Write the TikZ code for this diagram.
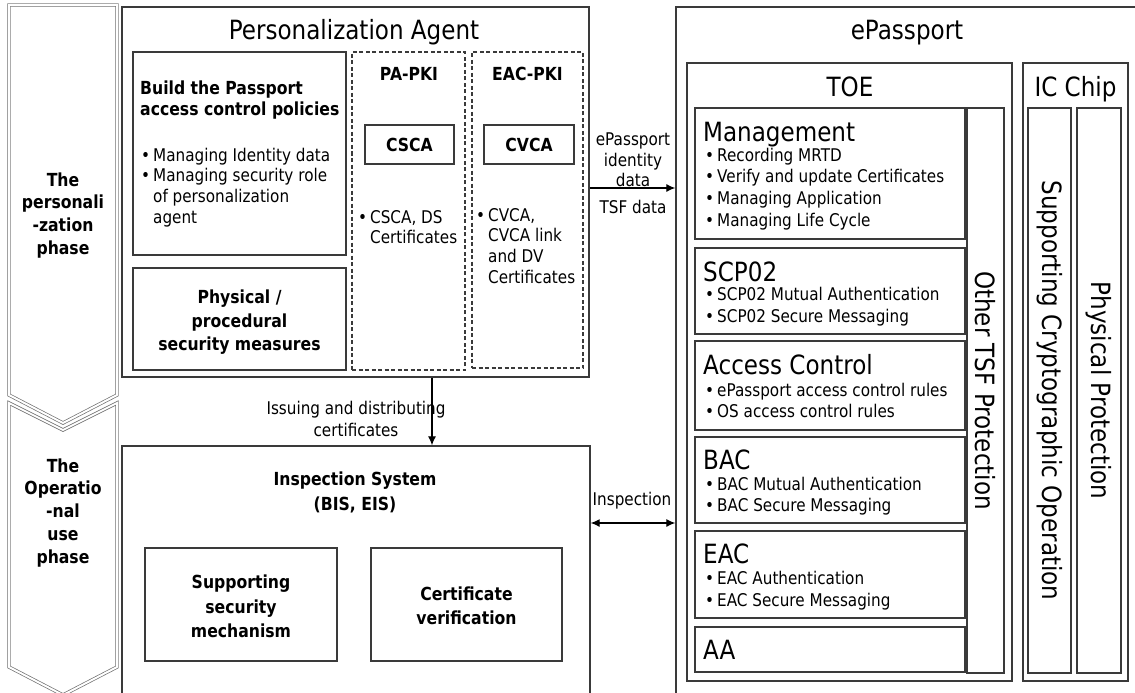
\documentclass[tikz,border=0pt]{standalone}
\usepackage{fontspec}
\setmainfont{DejaVu Sans}[FakeStretch=0.87]
\usetikzlibrary{arrows.meta,fit}
\definecolor{lc}{HTML}{3A3A3A}
\definecolor{pc}{HTML}{707070}
\newcommand{\szBig}{\fontsize{26.5}{30}\selectfont}
\newcommand{\szSm}{\fontsize{17.5}{20.7}\selectfont}
\newcommand{\szBd}{\fontsize{18}{21}\selectfont\bfseries}
\newcommand{\bl}{\makebox[12pt][l]{\textbullet}}
\tikzset{
  frame/.style={draw=lc, line width=1.3pt, rectangle, inner sep=0pt},
  dframe/.style={draw=lc, line width=1.2pt, dash pattern=on 4pt off 2.5pt, rectangle, inner sep=0pt},
  phasebox/.style={draw=pc, line width=0.7pt, double=white, double distance=2pt, line join=miter},
  big/.style={font=\szBig, inner sep=0pt},
  sm/.style={font=\szSm, inner sep=0pt},
  bd/.style={font=\szBd, inner sep=0pt},
  arr/.style={draw=black, line width=1.2pt, -{Latex[length=9pt,width=8pt]}},
  arrb/.style={draw=black, line width=1.2pt, {Latex[length=9pt,width=8pt]}-{Latex[length=9pt,width=8pt]}},
}
\begin{document}
\begin{tikzpicture}[x=1pt,y=-1pt]
\path[use as bounding box] (0,0) rectangle (1135,693);
\clip (0,0) rectangle (1135,693);
\fill[white] (0,0) rectangle (1135,693);

% phase arrows
\draw[phasebox] (9,5) -- (117,5) -- (117,395) -- (63,423) -- (9,395) -- cycle;
\draw[phasebox] (9,403) -- (63,430) -- (117,403) -- (117,667) -- (63,695) -- (9,667) -- cycle;
\foreach \t [count=\i from 0] in {The,personali,-zation,phase}
  \node[bd, anchor=base] (ph1-\i) at (63,186+\i*22.7) {\t};
\foreach \t [count=\i from 0] in {The,Operatio,-nal,use,phase}
  \node[bd, anchor=base] (ph2-\i) at (63,472+\i*22.8) {\t};

% Personalization Agent
\node[frame, fit={(122,7) (589,377)}] (pa) {};
\node[big, anchor=base] (patitle) at (354,40) {Personalization Agent};
\node[frame, fit={(133,52) (346,255)}] (build) {};
\node[bd, anchor=base west] (build-t1) at (140,94.5) {Build the Passport};
\node[bd, anchor=base west] (build-t2) at (140,115.5) {access control policies};
\node[sm, anchor=base west] (build-b1) at (141,161) {\bl Managing Identity data};
\node[sm, anchor=base west] (build-b2) at (141,181.5) {\bl Managing security role};
\node[sm, anchor=base west] (build-b3) at (153,202) {of personalization};
\node[sm, anchor=base west] (build-b4) at (153,223) {agent};
\node[frame, fit={(133,268) (346,370)}] (phys) {};
\foreach \t [count=\i from 0] in {Physical /,procedural,security measures}
  \node[bd, anchor=base] (phys-\i) at (239.5,303.5+\i*23.5) {\t};

\node[dframe, fit={(352,52) (465,370)}] (papki) {};
\node[bd, anchor=base] (papki-t) at (409,80.5) {PA-PKI};
\node[frame, fit={(365,125) (454,164)}] (csca) {};
\node[bd] (csca-t) at (csca.center) {CSCA};
\node[sm, anchor=base west] (csca-b1) at (358,223) {\bl CSCA, DS};
\node[sm, anchor=base west] (csca-b2) at (370,243.5) {Certificates};

\node[dframe, fit={(472,52) (583,368)}] (eacpki) {};
\node[bd, anchor=base] (eacpki-t) at (527.5,80.5) {EAC-PKI};
\node[frame, fit={(484,125) (574,164)}] (cvca) {};
\node[bd] (cvca-t) at (cvca.center) {CVCA};
\node[sm, anchor=base west] (cvca-b1) at (476,221) {\bl CVCA,};
\foreach \t [count=\i from 1] in {CVCA link,and DV,Certificates}
  \node[sm, anchor=base west] (cvca-b\i) at (488,221+\i*20.7) {\t};

% Inspection System
\node[frame, fit={(122,446) (590,730)}] (insp) {};
\node[bd, anchor=base] (insp-t1) at (355,485.5) {Inspection System};
\node[bd, anchor=base] (insp-t2) at (355,510.5) {(BIS, EIS)};
\node[frame, fit={(145,548) (337,661)}] (ssm) {};
\foreach \t [count=\i from 0] in {Supporting,security,mechanism}
  \node[bd, anchor=base] (ssm-\i) at (241,588.5+\i*24.5) {\t};
\node[frame, fit={(371,548) (562,661)}] (cv) {};
\node[bd, anchor=base] (cv-0) at (466.5,600.5) {Certificate};
\node[bd, anchor=base] (cv-1) at (466.5,624.5) {verification};

% ePassport
\node[frame, fit={(676,7) (1160,730)}] (ep) {};
\node[big, anchor=base] (ep-t) at (907,40) {ePassport};
\node[frame, fit={(687,63) (1012,681)}] (toe) {};
\node[big, anchor=base] (toe-t) at (850,96.5) {TOE};
\node[frame, fit={(1023,63) (1128,681)}] (ic) {};
\node[big, anchor=base] (ic-t) at (1075.5,96.5) {IC Chip};

\node[frame, fit={(695,108) (965,239)}] (mg) {};
\node[big, anchor=base west] (mg-t) at (703,141.5) {Management};
\foreach \t [count=\i from 0] in {Recording MRTD,Verify and update Certificates,Managing Application,Managing Life Cycle}
  \node[sm, anchor=base west] (mg-\i) at (705,161+\i*21.7) {\bl\t};

\node[frame, fit={(695,248) (965,334)}] (scp) {};
\node[big, anchor=base west] (scp-t) at (703,281.5) {SCP02};
\node[sm, anchor=base west] (scp-0) at (705,300) {\bl SCP02 Mutual Authentication};
\node[sm, anchor=base west] (scp-1) at (705,322) {\bl SCP02 Secure Messaging};

\node[frame, fit={(695,341) (965,430)}] (ac) {};
\node[big, anchor=base west] (ac-t) at (703,374.5) {Access Control};
\node[sm, anchor=base west] (ac-0) at (705,396) {\bl ePassport access control rules};
\node[sm, anchor=base west] (ac-1) at (705,417) {\bl OS access control rules};

\node[frame, fit={(695,437) (965,523)}] (bac) {};
\node[big, anchor=base west] (bac-t) at (703,469.5) {BAC};
\node[sm, anchor=base west] (bac-0) at (705,490) {\bl BAC Mutual Authentication};
\node[sm, anchor=base west] (bac-1) at (705,511) {\bl BAC Secure Messaging};

\node[frame, fit={(695,531) (965,618)}] (eac) {};
\node[big, anchor=base west] (eac-t) at (703,563.5) {EAC};
\node[sm, anchor=base west] (eac-0) at (705,584) {\bl EAC Authentication};
\node[sm, anchor=base west] (eac-1) at (705,606) {\bl EAC Secure Messaging};

\node[frame, fit={(695,627) (965,672)}] (aa) {};
\node[big, anchor=base west] (aa-t) at (703,659.5) {AA};

\node[frame, fit={(967,108) (1004,673)}] (tsf) {};
\node[big, rotate=-90] (tsf-t) at (tsf.center) {Other TSF Protection};
\node[frame, fit={(1028,108) (1071,673)}] (sco) {};
\node[big, rotate=-90] (sco-t) at (sco.center) {Supporting Cryptographic Operation};
\node[frame, fit={(1077,108) (1121,673)}] (pp) {};
\node[big, rotate=-90] (pp-t) at (pp.center) {Physical Protection};

% connectors
\coordinate (ea) at (0,188);
\draw[arr] (pa.east |- ea) -- (ep.west |- ea);
\node[sm, anchor=base] (ea-1) at (633,145) {ePassport};
\node[sm, anchor=base] (ea-2) at (633,166) {identity};
\node[sm, anchor=base] (ea-3) at (633,186) {data};
\node[sm, anchor=base] (ea-4) at (633,213) {TSF data};

\coordinate (ix) at (432,0);
\draw[arr] (pa.south -| ix) -- (insp.north -| ix);
\node[sm, anchor=base] (iss-1) at (356,414) {Issuing and distributing};
\node[sm, anchor=base] (iss-2) at (356,436) {certificates};

\coordinate (iy) at (0,523);
\draw[arrb] (insp.east |- iy) -- (ep.west |- iy);
\node[sm, anchor=base] (insp-l) at (632,505) {Inspection};
\end{tikzpicture}
\end{document}
